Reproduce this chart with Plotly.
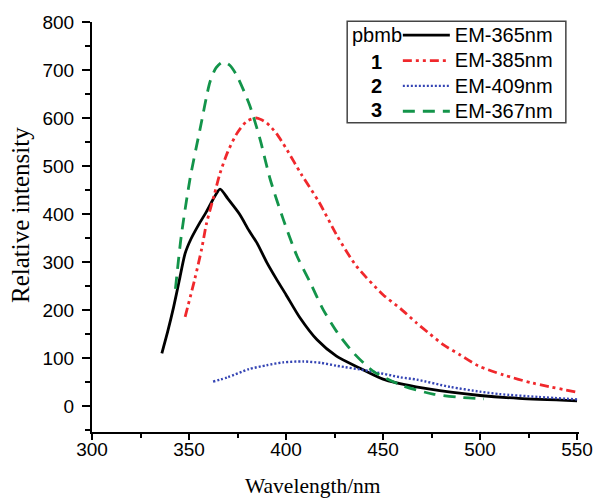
import plotly.graph_objects as go

# ---- data ----
pbmb_x = [336, 339, 342, 345, 348, 351, 355, 359, 363, 366, 370, 376, 381, 385, 390, 395, 400, 407, 416, 426, 437, 450, 467, 485, 500, 520, 550]
pbmb_y = [110, 155, 205, 262, 318, 348, 378, 405, 435, 452, 432, 400, 365, 340, 300, 265, 232, 185, 138, 104, 81, 56, 40, 29, 22, 16, 11]

c1_x = [348, 353, 356.5, 359, 363, 366, 370, 375, 380, 385, 390, 395, 400, 408, 417, 426, 436, 450, 459, 467, 473, 481, 490, 499, 512, 527, 550]
c1_y = [186, 265, 327, 380, 440, 485, 530, 570, 594, 600, 590, 568, 537, 482, 425, 357, 293, 232, 203, 174, 154, 128, 106, 84, 65, 48, 29]

c2_x = [362.4, 370, 381, 390, 398.5, 408.8, 418, 426, 443, 459, 467.5, 484.5, 500, 510, 530, 550]
c2_y = [51, 60, 77, 85, 91, 93, 90, 84, 73, 60, 55, 40, 30, 25, 19, 14]

c3_x = [343, 346, 350.5, 355.7, 360.8, 364, 367.5, 371, 374.7, 381.4, 386.6, 391.8, 398.5, 405.7, 412.4, 419, 426.3, 434.5, 444.8, 460.3, 475.8, 490, 502]
c3_y = [244, 354, 473, 577, 675, 705, 717, 710, 688, 625, 556, 473, 390, 312, 258, 202, 154, 112, 73, 42, 25, 18, 15]

series_names = ["EM-365nm", "EM-385nm", "EM-409nm", "EM-367nm"]
series_labels = ["pbmb", "<b>1</b>", "<b>2</b>", "<b>3</b>"]
x_ticks = [300, 350, 400, 450, 500, 550]
y_ticks = [0, 100, 200, 300, 400, 500, 600, 700, 800]
x_title = "Wavelength/nm"
y_title = "Relative intensity"

BLACK = "#000000"
RED = "#f0282c"
BLUE = "#3444b4"
GREEN = "#13944a"

SANS = "Liberation Sans, Arial, sans-serif"
SERIF = "Liberation Serif, Times New Roman, serif"


def big(name):
    return '<span style="font-size:20px">' + name + '</span>'


fig = go.Figure()
fig.add_trace(go.Scatter(x=pbmb_x, y=pbmb_y, mode="lines", name=big(series_names[0]),
                         line=dict(color=BLACK, width=2.8, shape="spline", smoothing=0.7)))
fig.add_trace(go.Scatter(x=c1_x, y=c1_y, mode="lines", name=big(series_names[1]),
                         line=dict(color=RED, width=2.8, dash="9px,4px,3px,4px,3px,4px",
                                   shape="spline", smoothing=0.7)))
fig.add_trace(go.Scatter(x=c2_x, y=c2_y, mode="lines", name=big(series_names[2]),
                         line=dict(color=BLUE, width=2.4, dash="2px,2px",
                                   shape="spline", smoothing=0.7)))
fig.add_trace(go.Scatter(x=c3_x, y=c3_y, mode="lines", name=big(series_names[3]),
                         line=dict(color=GREEN, width=2.8, dash="12px,8px",
                                   shape="spline", smoothing=0.7)))

tick_font = dict(family=SANS, size=19, color="#000")

fig.update_xaxes(
    range=[300, 551], tickvals=x_ticks, ticks="outside", ticklen=6, tickwidth=2,
    tickcolor="#000", showline=True, linecolor="#000", linewidth=2,
    showgrid=False, zeroline=False, tickfont=tick_font, automargin=False,
    ticklabelstandoff=-7,
    minor=dict(dtick=25, tick0=300, ticks="outside", ticklen=4, tickwidth=1.5, tickcolor="#000"),
)
fig.update_yaxes(
    range=[-54, 800], tickvals=y_ticks, ticks="outside", ticklen=8, tickwidth=2,
    tickcolor="#000", showline=True, linecolor="#000", linewidth=2,
    showgrid=False, zeroline=False, tickfont=tick_font, automargin=False,
    ticklabelstandoff=4,
    minor=dict(dtick=50, tick0=0, ticks="outside", ticklen=5, tickwidth=1.5, tickcolor="#000"),
)

# axis titles
fig.add_annotation(text=x_title, xref="paper", yref="paper", x=0.454, y=-0.132,
                   showarrow=False, xanchor="center", yanchor="middle",
                   font=dict(family=SERIF, size=21.5, color="#000"))
fig.add_annotation(text=y_title, xref="paper", yref="paper", x=-0.148, y=0.529,
                   showarrow=False, xanchor="center", yanchor="middle", textangle=-90,
                   font=dict(family=SERIF, size=25, color="#000"))

# legend box and left-hand labels
fig.add_shape(type="rect", xref="paper", yref="paper", x0=0.524, x1=0.973, y0=0.754, y1=1.002,
              line=dict(color="#444", width=1.5), fillcolor="rgba(0,0,0,0)")
label_y = [0.968, 0.902, 0.844, 0.785]
label_x = [0.585, 0.585, 0.585, 0.585]
for lab, lx, ly in zip(series_labels, label_x, label_y):
    fig.add_annotation(text=lab, xref="paper", yref="paper", x=lx, y=ly, showarrow=False,
                       xanchor="center", yanchor="middle",
                       font=dict(family=SANS, size=20, color="#000"))

fig.update_layout(
    width=597, height=500,
    margin=dict(l=92, r=18, t=22, b=68),
    plot_bgcolor="white", paper_bgcolor="white",
    showlegend=True,
    legend=dict(x=0.628, y=1.011, xanchor="left", yanchor="top",
                bgcolor="rgba(0,0,0,0)", borderwidth=0,
                font=dict(family=SANS, size=17.2, color="#000"),
                itemwidth=47, tracegroupgap=0),
)

# remove the browser's default 8px body margin so the figure fills the window exactly
fig.write_html("out.html", config={"displayModeBar": False},
               post_script="document.body.style.margin='0';document.body.style.overflow='hidden';")
